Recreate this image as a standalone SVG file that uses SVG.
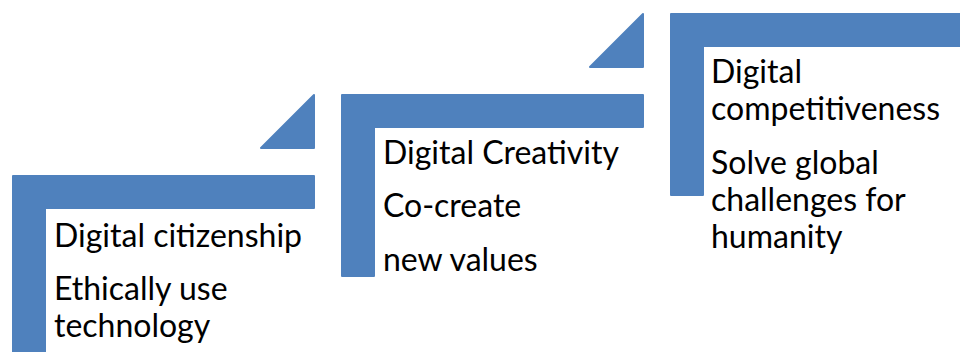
<svg xmlns="http://www.w3.org/2000/svg" width="960" height="352" viewBox="0 0 960 352">
  <style>
    .step { fill: #4F81BD; stroke: #4F81BD; stroke-width: 2; stroke-linejoin: round; }
    .arrow { fill: #4F81BD; stroke: #4F81BD; stroke-width: 2; stroke-linejoin: round; }
    .label { font-family: Lato, "Liberation Sans", sans-serif; font-size: 32px; fill: #000000; }
  </style>
  <rect width="960" height="352" fill="#FFFFFF"/>

  <!-- step arrows between the stairs -->
  <g id="connectors">
    <polygon class="arrow" points="314,95 314,148 261,148"/>
    <polygon class="arrow" points="643,14 643,67 590,67"/>
  </g>

  <!-- step 1 -->
  <g id="step-citizenship">
    <path class="step" d="M13,176 H314 V208 H45 V360 H13 Z"/>
    <text class="label" x="54" y="247">Digital citizenship</text>
    <text class="label" x="54" y="300">Ethically use</text>
    <text class="label" x="54" y="337">technology</text>
  </g>

  <!-- step 2 -->
  <g id="step-creativity">
    <path class="step" d="M342,95 H643 V127 H374 V276 H342 Z"/>
    <text class="label" x="383" y="164">Digital Creativity</text>
    <text class="label" x="383" y="217">Co-create</text>
    <text class="label" x="383" y="271">new values</text>
  </g>

  <!-- step 3 -->
  <g id="step-competitiveness">
    <path class="step" d="M671,14 H972 V46 H703 V195 H671 Z"/>
    <text class="label" x="711" y="83">Digital</text>
    <text class="label" x="711" y="120">competitiveness</text>
    <text class="label" x="711" y="174">Solve global</text>
    <text class="label" x="711" y="211">challenges for</text>
    <text class="label" x="711" y="248">humanity</text>
  </g>
</svg>
